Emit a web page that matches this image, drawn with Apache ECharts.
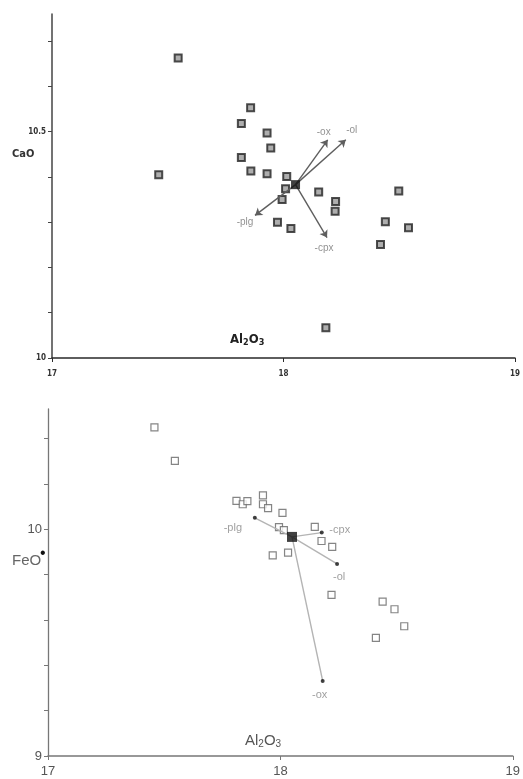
<!DOCTYPE html>
<html>
<head>
<meta charset="utf-8">
<script src="https://cdn.jsdelivr.net/npm/echarts@6/dist/echarts.min.js"></script>
<style>
  html, body { margin: 0; padding: 0; background: #fff; }
  #chart { width: 523px; height: 779px; }
</style>
</head>
<body>
<div id="chart"></div>
<script>
// Al2O3 vs CaO (upper panel)
const caoSamples = [
  [17.545, 10.663], [17.461, 10.405], [17.858, 10.553], [17.818, 10.518],
  [17.929, 10.497], [17.945, 10.464], [17.818, 10.443], [17.859, 10.413],
  [17.929, 10.407], [18.014, 10.401], [18.009, 10.374], [17.994, 10.350],
  [17.974, 10.300], [18.032, 10.286], [18.152, 10.367], [18.225, 10.346],
  [18.223, 10.324], [18.498, 10.369], [18.440, 10.301], [18.540, 10.288],
  [18.419, 10.251], [18.183, 10.067]
];
const caoCentre = [18.052, 10.383];
const caoVectors = [
  { name: '-ox', end: [18.191, 10.482] },
  { name: '-ol', end: [18.269, 10.482] },
  { name: '-plg', end: [17.877, 10.315] },
  { name: '-cpx', end: [18.188, 10.266] }
];

// Al2O3 vs FeO* (lower panel)
const feoSamples = [
  [17.458, 10.449], [17.546, 10.301], [17.811, 10.125], [17.838, 10.110],
  [17.858, 10.124], [17.925, 10.149], [17.925, 10.110], [17.947, 10.093],
  [18.009, 10.072], [17.994, 10.009], [18.015, 9.996], [18.148, 10.010],
  [18.177, 9.948], [18.223, 9.922], [17.967, 9.885], [18.033, 9.897],
  [18.220, 9.710], [18.440, 9.681], [18.491, 9.647], [18.533, 9.572],
  [18.411, 9.521]
];
const feoCentre = [18.050, 9.966];
const feoVectors = [
  { name: '-plg', end: [17.890, 10.050] },
  { name: '-cpx', end: [18.178, 9.985] },
  { name: '-ol', end: [18.244, 9.847] },
  { name: '-ox', end: [18.182, 9.331] }
];

// axis ticks and labels
const xTicks = [17, 18, 19];
const caoTicks = [10, 10.1, 10.2, 10.3, 10.4, 10.5, 10.6, 10.7];
const caoLabels = [10, 10.5];
const feoTicks = [9, 9.2, 9.4, 9.6, 9.8, 10, 10.2, 10.4];
const feoLabels = [9, 10];

const narrow = '"Liberation Sans Narrow", "DejaVu Sans Condensed", sans-serif';
const plain = '"Liberation Sans", Arial, sans-serif';

// where each vector label sits relative to its end point
const caoLabelOffset = { '-ox': [-4, -8], '-ol': [6, -10], '-plg': [-10, 7], '-cpx': [-3, 11] };
const feoLabelOffset = { '-plg': [-22, 10], '-cpx': [18, -3], '-ol': [2, 13], '-ox': [-3, 14] };

const chart = echarts.init(document.getElementById('chart'), null, { renderer: 'canvas' });

function xAxisFor(gridIndex, labelStyle, lineColor) {
  return {
    type: 'value', gridIndex, min: 17, max: 19, interval: 1,
    splitLine: { show: false },
    axisLine: { onZero: false, lineStyle: { color: lineColor, width: 1.5 } },
    axisTick: { customValues: xTicks, length: 4, lineStyle: { color: lineColor } },
    axisLabel: Object.assign({ customValues: xTicks, showMaxLabel: true }, labelStyle)
  };
}

const option = {
  animation: false,
  backgroundColor: '#fff',
  grid: [
    { left: 52, right: 4, top: 14, bottom: 421 },
    { left: 48, right: 8, top: 409, bottom: 23 }
  ],
  xAxis: [
    xAxisFor(0, { margin: 12, fontSize: 8, fontWeight: 'bold', fontFamily: narrow, color: '#333' }, '#2a2a2a'),
    xAxisFor(1, { margin: 9, fontSize: 13, fontFamily: plain, color: '#555' }, '#777')
  ],
  yAxis: [
    {
      type: 'value', gridIndex: 0, min: 10, max: 10.76, interval: 0.1,
      splitLine: { show: false },
      axisLine: { show: true, onZero: false, lineStyle: { color: '#444', width: 1.5 } },
      axisTick: { customValues: caoTicks, length: 4, lineStyle: { color: '#444' } },
      axisLabel: {
        customValues: caoLabels, margin: 6, fontSize: 8, fontWeight: 'bold',
        fontFamily: narrow, color: '#333', formatter: v => String(v)
      }
    },
    {
      type: 'value', gridIndex: 1, min: 9, max: 10.53, interval: 0.2,
      splitLine: { show: false },
      axisLine: { show: true, onZero: false, lineStyle: { color: '#777', width: 1.3 } },
      axisTick: { customValues: feoTicks, length: 4, lineStyle: { color: '#777' } },
      axisLabel: {
        customValues: feoLabels, margin: 6, fontSize: 13,
        fontFamily: plain, color: '#555', formatter: v => String(v)
      }
    }
  ],
  series: [
    // upper panel
    {
      type: 'lines', coordinateSystem: 'cartesian2d', xAxisIndex: 0, yAxisIndex: 0,
      symbol: ['none', 'arrow'], symbolSize: 7, z: 3,
      lineStyle: { color: '#5e5e5e', width: 1.4, opacity: 1 },
      data: caoVectors.map(v => ({ coords: [caoCentre, v.end] }))
    },
    {
      type: 'scatter', xAxisIndex: 0, yAxisIndex: 0, symbol: 'rect', symbolSize: 7, z: 2,
      itemStyle: { color: '#9a9a9a', borderColor: '#222', borderWidth: 2 },
      data: caoSamples
    },
    {
      type: 'scatter', xAxisIndex: 0, yAxisIndex: 0, symbol: 'rect', symbolSize: 9, z: 4,
      itemStyle: { color: '#111' },
      data: [caoCentre]
    },
    {
      type: 'scatter', xAxisIndex: 0, yAxisIndex: 0, symbolSize: 0, z: 4,
      label: { show: true, fontSize: 10, fontFamily: plain, color: '#777', formatter: p => p.name },
      data: caoVectors.map(v => ({
        name: v.name, value: v.end,
        label: { offset: caoLabelOffset[v.name] }
      }))
    },
    // lower panel
    {
      type: 'lines', coordinateSystem: 'cartesian2d', xAxisIndex: 1, yAxisIndex: 1,
      symbol: ['none', 'none'], z: 3,
      lineStyle: { color: '#b4b4b4', width: 1.4, opacity: 1 },
      data: feoVectors.map(v => ({ coords: [feoCentre, v.end] }))
    },
    {
      type: 'scatter', xAxisIndex: 1, yAxisIndex: 1, symbol: 'rect', symbolSize: 7, z: 2,
      itemStyle: { color: '#fff', borderColor: '#666', borderWidth: 1.2 },
      data: feoSamples
    },
    {
      type: 'scatter', xAxisIndex: 1, yAxisIndex: 1, symbol: 'rect', symbolSize: 10, z: 4,
      itemStyle: { color: '#111' },
      data: [feoCentre]
    },
    {
      type: 'scatter', xAxisIndex: 1, yAxisIndex: 1, symbol: 'circle', symbolSize: 4, z: 4,
      itemStyle: { color: '#111' },
      label: { show: true, fontSize: 11, fontFamily: plain, color: '#888', formatter: p => p.name },
      data: feoVectors.map(v => ({
        name: v.name, value: v.end,
        label: { offset: feoLabelOffset[v.name] }
      }))
    }
  ],
  graphic: [
    {
      type: 'text', left: 230, top: 333,
      style: {
        text: '{b|Al}{s|2}{b|O}{s|3}', fontFamily: narrow, fill: '#222',
        rich: {
          b: { fontSize: 13, fontWeight: 'bold', fontFamily: narrow, fill: '#222' },
          s: { fontSize: 9, fontWeight: 'bold', fontFamily: narrow, fill: '#222', verticalAlign: 'bottom', padding: [6, 0, 0, 0] }
        }
      }
    },
    {
      type: 'text', left: 12, top: 149,
      style: { text: 'CaO', fontSize: 11, fontWeight: 'bold', fontFamily: narrow, fill: '#333' }
    },
    {
      type: 'text', left: 245, top: 733,
      style: {
        text: '{b|Al}{s|2}{b|O}{s|3}', fill: '#555',
        rich: {
          b: { fontSize: 15, fontFamily: plain, fill: '#555' },
          s: { fontSize: 10, fontFamily: plain, fill: '#555', verticalAlign: 'bottom', padding: [7, 0, 0, 0] }
        }
      }
    },
    {
      type: 'text', left: 12, top: 553,
      style: { text: 'FeO', fontSize: 15, fontFamily: plain, fill: '#666' }
    },
    {
      type: 'text', left: 40, top: 546,
      style: { text: '•', fontSize: 16, fontFamily: plain, fill: '#111' }
    }
  ]
};

chart.setOption(option);
</script>
</body>
</html>
